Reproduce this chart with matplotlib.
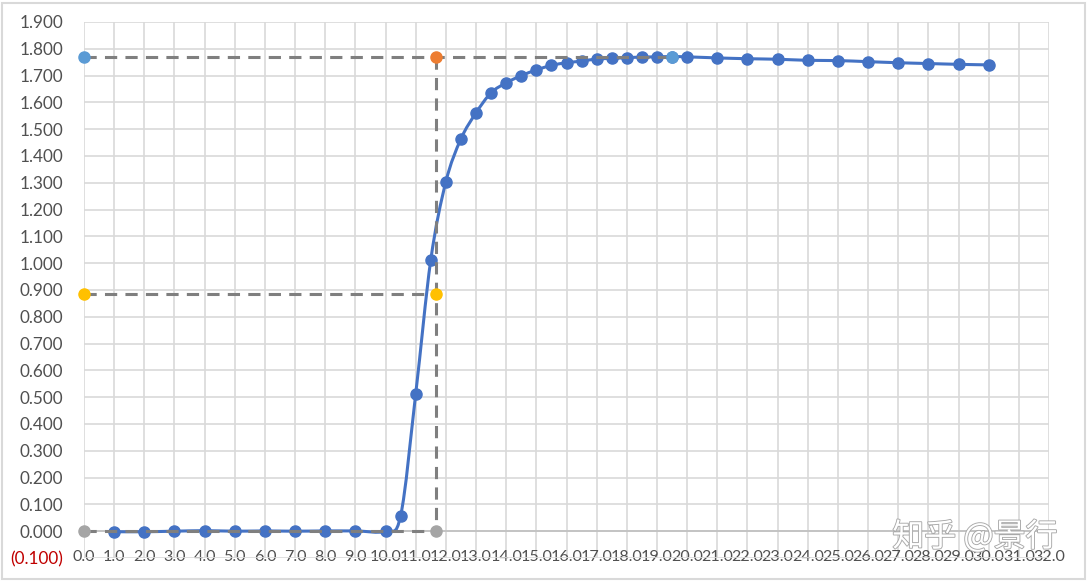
import numpy as np
import matplotlib
matplotlib.use("Agg")
import matplotlib.pyplot as plt
from matplotlib.path import Path
from matplotlib.patches import PathPatch, Rectangle
import matplotlib.patheffects as pe

# ---------------- data ----------------
x_curve = [1, 2, 3, 4, 5, 6, 7, 8, 9, 10,
           10.5, 11, 11.5, 12, 12.5, 13, 13.5, 14, 14.5, 15,
           15.5, 16, 16.5, 17, 17.5, 18, 18.5, 19, 19.5, 20,
           21, 22, 23, 24, 25, 26, 27, 28, 29, 30]
y_curve = [-0.002, -0.002, 0.000, 0.002, 0.000, 0.001, 0.000, 0.001, 0.001, 0.000,
           0.058, 0.513, 1.013, 1.304, 1.464, 1.561, 1.636, 1.673, 1.700, 1.721,
           1.738, 1.748, 1.754, 1.762, 1.764, 1.767, 1.769, 1.770, 1.771, 1.770,
           1.766, 1.763, 1.761, 1.757, 1.756, 1.752, 1.748, 1.745, 1.742, 1.740]

peak_x = [0.0, 19.5]
peak_y = [1.771, 1.771]
half_x = [0.0, 11.68]
half_y = [0.885, 0.885]
cross_x = [11.68, 11.68]
cross_y = [1.771, 0.0]
base_x = [0.0, 11.68]
base_y = [0.0, 0.0]

x_ticks = list(range(0, 33))
y_ticks = [round(-0.1 + 0.1 * i, 1) for i in range(21)]

# ---------------- style ----------------
BLUE = "#4472C4"
LIGHTBLUE = "#5B9BD5"
ORANGE = "#ED7D31"
YELLOW = "#FFC000"
GRAYM = "#A5A5A5"
DASH = "#7F7F7F"
TXT = "#505050"
GRID = "#D9D9D9"

plt.rcParams['font.family'] = ['Lato', 'DejaVu Sans']

fig = plt.figure(figsize=(10.88, 5.82), dpi=100)
ax = fig.add_axes([84 / 1088, 1 - 558 / 582, (1049 - 84) / 1088, (558 - 22) / 582])

ax.set_xlim(0, 32)
ax.set_ylim(-0.1, 1.9)
ax.set_xticks(x_ticks)
ax.set_xticklabels([f"{v:.1f}" for v in x_ticks])
ax.set_yticks(y_ticks)
ylabels = [f"({abs(v):.3f})" if v < 0 else f"{v:.3f}" for v in y_ticks]
ax.set_yticklabels(ylabels)
ax.tick_params(axis='both', length=0, labelcolor=TXT)
ax.tick_params(axis='y', pad=15, labelsize=12.3)
ax.tick_params(axis='x', pad=-6, labelsize=11.6)
for lbl, v in zip(ax.get_yticklabels(), y_ticks):
    lbl.set_color("#C00000" if v < 0 else TXT)

ax.grid(True, color=GRID, linewidth=1.2, zorder=0)
ax.set_axisbelow(True)
for s in ax.spines.values():
    s.set_visible(False)
ax.axhline(0, color="#BFBFBF", linewidth=1.2, zorder=1)

# smooth curve (Excel-like Catmull-Rom Bezier)
pts = np.column_stack([x_curve, y_curve]).astype(float)
n = len(pts)
verts = [pts[0]]
codes = [Path.MOVETO]
for i in range(n - 1):
    p0 = pts[i - 1] if i > 0 else pts[i]
    p1 = pts[i]
    p2 = pts[i + 1]
    p3 = pts[i + 2] if i + 2 < n else pts[i + 1]
    verts += [p1 + (p2 - p0) / 6.0, p2 - (p3 - p1) / 6.0, p2]
    codes += [Path.CURVE4] * 3
ax.add_patch(PathPatch(Path(verts, codes), fill=False, edgecolor=BLUE,
                       linewidth=2.2, zorder=3, capstyle='round', joinstyle='round'))
ax.plot(x_curve, y_curve, linestyle='none', marker='o', markersize=8,
        color=BLUE, zorder=4, clip_on=False)

dash_kw = dict(color=DASH, linewidth=2.2, linestyle=(0, (4, 2.7)), zorder=5,
               dash_capstyle='butt')
ax.plot(peak_x, peak_y, **dash_kw)
ax.plot(half_x, half_y, **dash_kw)
ax.plot(cross_x, cross_y, **dash_kw)
ax.plot(base_x, base_y, **dash_kw)

mk = dict(linestyle='none', marker='o', markersize=8, zorder=6, clip_on=False)
ax.plot(peak_x, peak_y, color=LIGHTBLUE, **mk)
ax.plot(half_x, half_y, color=YELLOW, **mk)
ax.plot(base_x, base_y, color=GRAYM, **mk)
ax.plot(cross_x[:1], cross_y[:1], color=ORANGE, **mk)

# chart border
fig.patches.append(Rectangle((2 / 1088, 3 / 582), 1 - 5 / 1088, 1 - 6 / 582,
                             transform=fig.transFigure, fill=False,
                             edgecolor=GRID, linewidth=1.5))

# watermark
fig.text(975 / 1088, 1 - 537 / 582, "知乎 @景行", ha='center', va='center',
         fontsize=23, color='white',
         family=['Noto Sans CJK SC', 'DejaVu Sans'],
         path_effects=[pe.withStroke(linewidth=1.3, foreground='#A8A8A8')],
         zorder=10)

fig.savefig("out.png", dpi=100)
